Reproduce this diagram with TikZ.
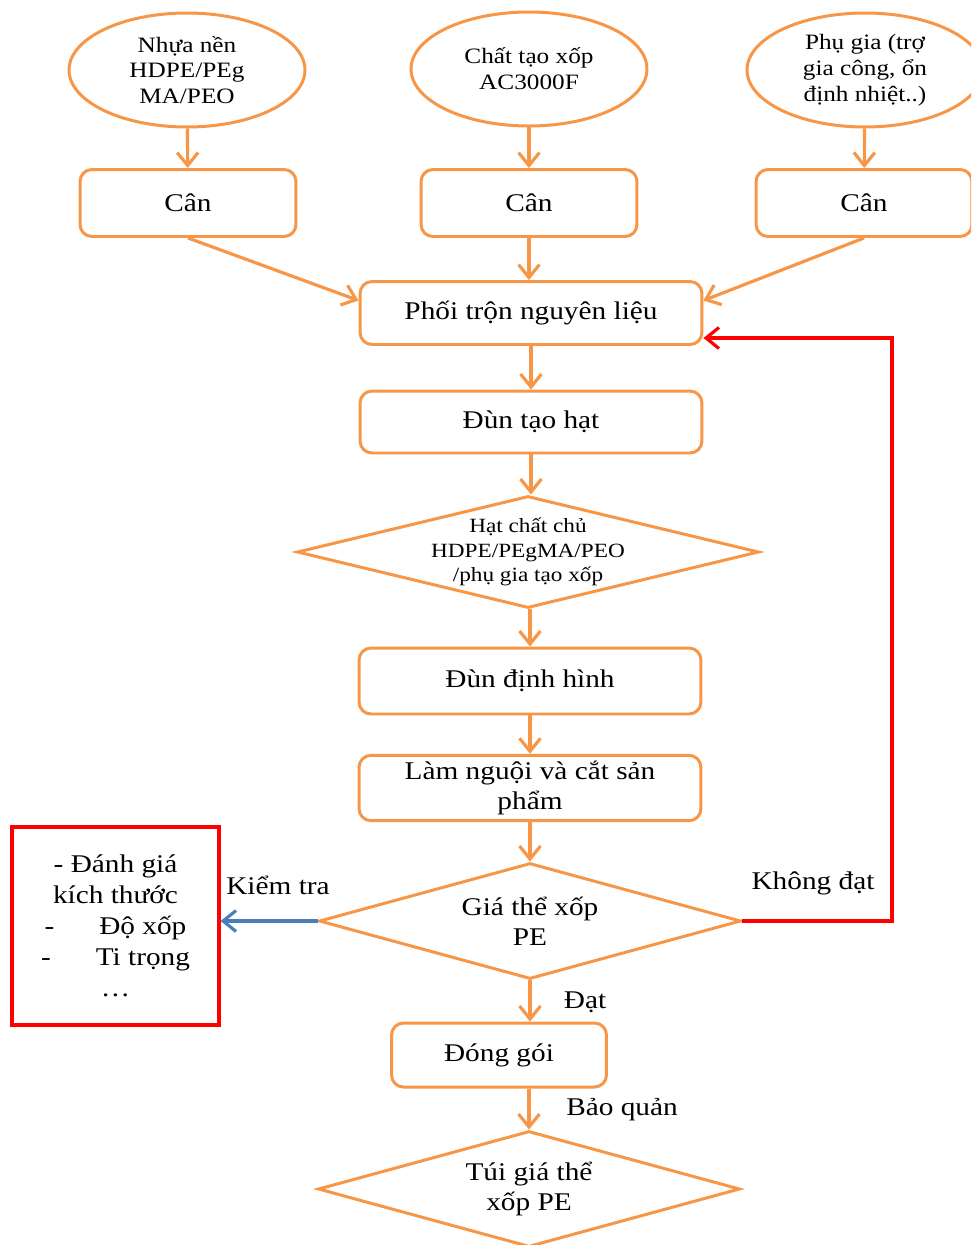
\documentclass[tikz,border=0pt]{standalone}
\usepackage{fontspec}
\setmainfont{Liberation Serif}[FakeStretch=1.15]
\usetikzlibrary{shapes.geometric,arrows.meta}

\definecolor{accent}{HTML}{F79646}
\definecolor{failred}{HTML}{FF0000}
\definecolor{checkblue}{HTML}{4A7EBB}

\tikzset{
  material/.style={ellipse, draw=accent, line width=1.7pt, inner sep=0pt,
    minimum width=4.72cm, minimum height=2.28cm, align=center,
    font=\fontsize{12.5}{14.7}\selectfont},
  stepbox/.style={rectangle, rounded corners=0.24cm, draw=accent, line width=1.7pt,
    minimum width=6.84cm, minimum height=1.28cm, align=center,
    font=\fontsize{14.5}{17}\selectfont},
  weighbox/.style={stepbox, minimum width=4.32cm, minimum height=1.34cm},
  decision/.style={diamond, aspect=3.64, draw=accent, line width=1.7pt, inner sep=0pt,
    align=center, minimum width=8.44cm, minimum height=2.32cm,
    font=\fontsize{14.5}{17}\selectfont},
  testbox/.style={rectangle, draw=failred, line width=1.8pt, align=center,
    minimum width=4.14cm, minimum height=3.96cm,
    font=\fontsize{14.5}{17.6}\selectfont},
  tag/.style={font=\fontsize{14.5}{17}\selectfont, inner sep=1pt},
  flow/.style={draw=accent, line width=1.8pt,
    -{Straight Barb[length=0.26cm,width=0.42cm]}},
  fail/.style={flow, draw=failred},
  probe/.style={flow, draw=checkblue}
}

\begin{document}
\begin{tikzpicture}[x=0.02cm, y=-0.02cm]
  \useasboundingbox (0,0) rectangle (971,1245);
  \clip (0,0) rectangle (971,1245);

  % raw materials
  \node[material] (resin) at (187,70) {Nhựa nền\\HDPE/PEg\\MA/PEO};
  \node[material] (agent) at (529,69) {Chất tạo xốp\\AC3000F};
  \node[material] (additive) at (865,70) {Phụ gia (trợ\\gia công, ổn\\định nhiệt..)};

  \node[weighbox] (w1) at (188,203) {Cân};
  \node[weighbox] (w2) at (529,203) {Cân};
  \node[weighbox] (w3) at (864,203) {Cân};

  % main line
  \node[stepbox, minimum height=1.26cm] (mix) at (531,313) {Phối trộn nguyên liệu};
  \node[stepbox, minimum height=1.24cm] (grain) at (531,422) {Đùn tạo hạt};
  \node[decision, aspect=4.12, inner sep=-2pt, minimum width=9.24cm,
    minimum height=2.24cm, font=\fontsize{11.5}{13.9}\selectfont]
    (pellet) at (528,552) {Hạt chất chủ\\HDPE/PEgMA/PEO\\/phụ gia tạo xốp};
  \node[stepbox, minimum height=1.32cm] (shape) at (530,681) {Đùn định hình};
  \node[stepbox, minimum height=1.30cm] (cool) at (530,788)
    {Làm nguội và cắt sản\\phẩm};
  \node[decision] (check) at (530,921) {Giá thể xốp\\PE};
  \node[stepbox, minimum width=4.3cm] (pack) at (499,1055) {Đóng gói};
  \node[decision] (bag) at (529,1189) {Túi giá thể\\xốp PE};

  \node[testbox] (test) at (115.5,926)
    {- Đánh giá\\kích thước\\-\hspace{0.9cm}Độ xốp\\-\hspace{0.9cm}Ti trọng\\\ldots};

  % edge labels
  \node[tag] (lbltest) at (278,885) {Kiểm tra};
  \node[tag] (lblfail) at (813,883) {Không đạt};
  \node[tag] (lblpass) at (585,1002) {Đạt};
  \node[tag] (lblstore) at (622,1110) {Bảo quản};

  \coordinate (loop) at (892,338);

  \draw[flow] (resin) -- (w1);
  \draw[flow] (agent) -- (w2);
  \draw[flow] (additive) -- (w3);
  \draw[flow] (w1.south) -- ([yshift=0.25cm]mix.west);
  \draw[flow] (w2) -- (w2 |- mix.north);
  \draw[flow] (w3.south) -- ([yshift=0.25cm]mix.east);
  \draw[flow] (mix) -- (grain);
  \draw[flow] (grain) -- (grain |- pellet.north);
  \draw[flow] (shape |- pellet.south) -- (shape);
  \draw[flow] (shape) -- (cool);
  \draw[flow] (cool) -- (check);
  \draw[flow] (check.south) -- (check.south |- pack.north);
  \draw[flow] (bag.north |- pack.south) -- (bag.north);
  \draw[probe] (check.west) -- (test.east |- check.west);
  \draw[fail] (check.east) -| (loop) -- (loop -| mix.east);
\end{tikzpicture}
\end{document}
